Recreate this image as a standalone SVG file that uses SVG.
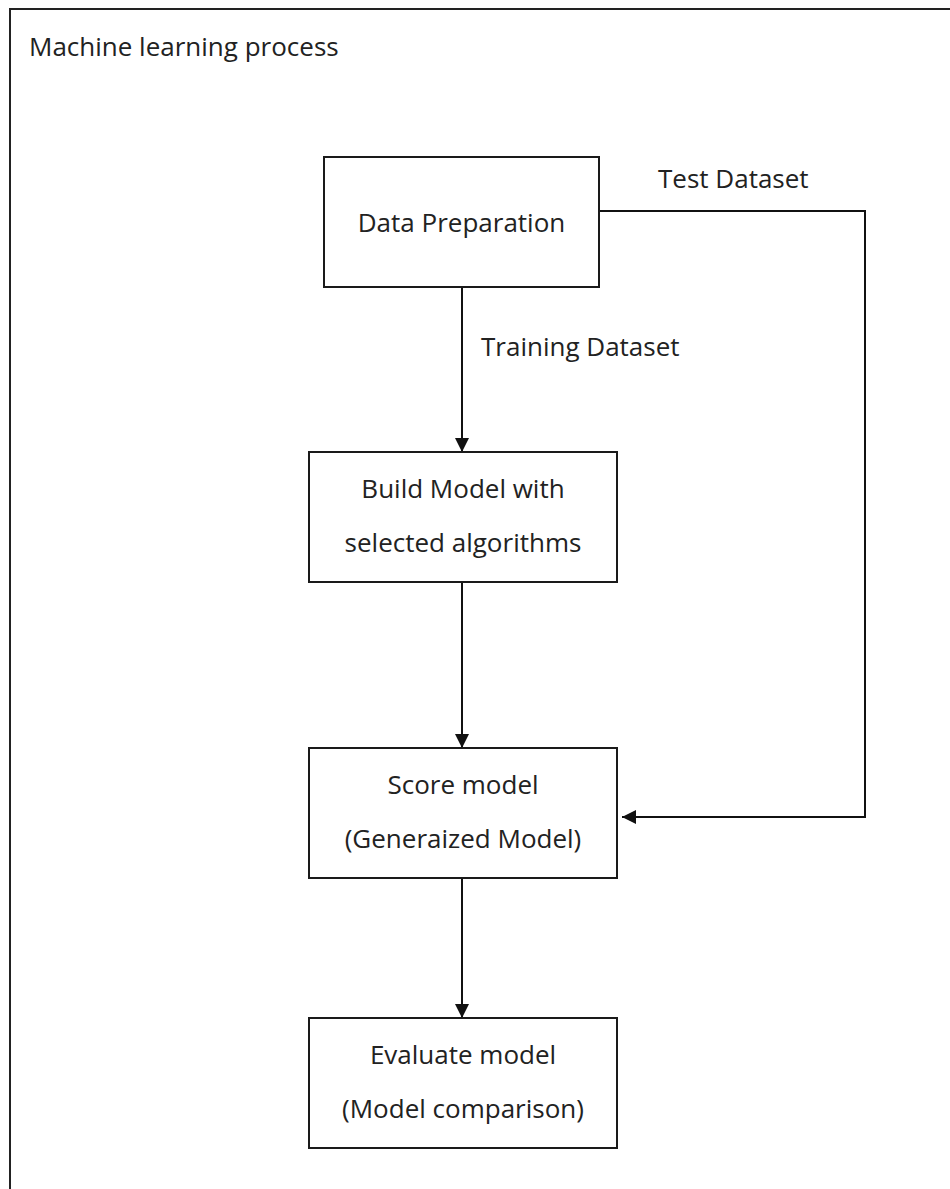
<svg xmlns="http://www.w3.org/2000/svg" width="950" height="1189" viewBox="0 0 950 1189">
<style>
.box{fill:#fff;stroke:#1a1a1a;stroke-width:2}
.t{font-family:"Open Sans","Noto Sans",sans-serif;font-size:26px;fill:#222;text-anchor:middle}
.l{font-family:"Open Sans","Noto Sans",sans-serif;font-size:26px;fill:#222}
.c{fill:none;stroke:#111;stroke-width:2}
</style>
<defs>
<marker id="arr" viewBox="0 0 14 14" refX="14" refY="7" markerWidth="14" markerHeight="14" markerUnits="userSpaceOnUse" orient="auto">
<path d="M0,0 L14,7 L0,14 z" fill="#111"/>
</marker>
</defs>
<rect x="0" y="0" width="950" height="1189" fill="#fff"/>
<g id="frame">
<path d="M10,1189 L10,9 L950,9" fill="none" stroke="#222" stroke-width="2"/>
<text class="l" x="29" y="56">Machine learning process</text>
</g>
<g id="connectors">
<path class="c" d="M462,287 L462,452" marker-end="url(#arr)"/>
<path class="c" d="M462,582 L462,748" marker-end="url(#arr)"/>
<path class="c" d="M462,878 L462,1018" marker-end="url(#arr)"/>
<path class="c" d="M599,211 L865,211 L865,817 L622,817" marker-end="url(#arr)"/>
<text class="l" x="658" y="188">Test Dataset</text>
<text class="l" x="481" y="356">Training Dataset</text>
</g>
<g id="data-preparation">
<rect class="box" x="324" y="157" width="275" height="130"/>
<text class="t" x="461.5" y="232">Data Preparation</text>
</g>
<g id="build-model">
<rect class="box" x="309" y="452" width="308" height="130"/>
<text class="t" x="463" y="498">Build Model with</text>
<text class="t" x="463" y="552">selected algorithms</text>
</g>
<g id="score-model">
<rect class="box" x="309" y="748" width="308" height="130"/>
<text class="t" x="463" y="794">Score model</text>
<text class="t" x="463" y="848">(Generaized Model)</text>
</g>
<g id="evaluate-model">
<rect class="box" x="309" y="1018" width="308" height="130"/>
<text class="t" x="463" y="1064">Evaluate model</text>
<text class="t" x="463" y="1118">(Model comparison)</text>
</g>
</svg>
